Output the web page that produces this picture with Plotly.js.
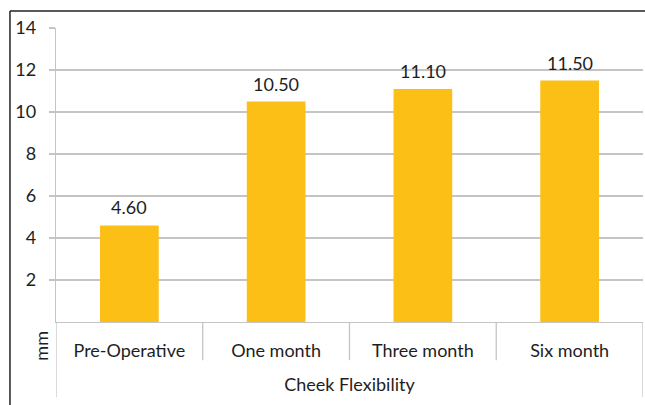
<!DOCTYPE html>
<html>
<head>
<meta charset="utf-8">
<script src="https://cdn.plot.ly/plotly-3.0.1.min.js"></script>
<style>html,body{margin:0;padding:0;background:#fff;}#chart{width:645px;height:405px;}</style>
</head>
<body>
<div id="chart"></div>
<script>
const categories = ["Pre-Operative", "One month", "Three month", "Six month"];
const values = [4.60, 10.50, 11.10, 11.50];
const yTicks = [2, 4, 6, 8, 10, 12, 14];
const xTitle = "Cheek Flexibility";
const yTitle = "mm";

const FONT = "Lato, 'Open Sans', sans-serif";
const FS = 18;
const GRID = "#c4c4c4";
const BAR = "#FBBF16";
const TXT = "#1e1e1e";

const trace = {
  type: "bar",
  x: categories,
  y: values,
  marker: {color: BAR},
  hoverinfo: "skip"
};

const labelAnn = categories.map((c, i) => ({
  x: c, y: values[i], xref: "x", yref: "y",
  text: values[i].toFixed(2), showarrow: false,
  yanchor: "bottom", yshift: 5,
  font: {family: FONT, size: FS, color: TXT}
}));

const dividers = [-0.5, 0.5, 1.5, 2.5, 3.5].map((v, i) => ({
  type: "line", xref: "x", yref: "paper",
  x0: v, x1: v, y0: 0, y1: (i === 0 || i === 4) ? -0.255 : -0.13,
  line: {color: GRID, width: 1.3}
}));

const layout = {
  width: 645, height: 405,
  margin: {l: 56, r: 2, t: 28, b: 83},
  paper_bgcolor: "#fff", plot_bgcolor: "#fff",
  bargap: 0.6,
  showlegend: false,
  font: {family: FONT, size: FS, color: TXT},
  xaxis: {
    type: "category",
    range: [-0.5, 3.5],
    showline: true, linecolor: GRID, linewidth: 1.3,
    showgrid: false, ticks: "",
    ticklabelstandoff: 12,
    tickfont: {family: FONT, size: FS, color: TXT},
    title: {text: xTitle, standoff: 18, font: {family: FONT, size: FS, color: TXT}},
    fixedrange: true
  },
  yaxis: {
    range: [0, 14],
    tickvals: yTicks,
    showgrid: true, gridcolor: GRID, gridwidth: 1.3,
    showline: true, linecolor: GRID, linewidth: 1.3,
    ticks: "outside", ticklen: 6, tickcolor: GRID, tickwidth: 1.3,
    ticklabelstandoff: 9,
    zeroline: false,
    tickfont: {family: FONT, size: FS, color: TXT},
    fixedrange: true
  },
  shapes: dividers.concat([
    {type: "line", xref: "paper", yref: "paper", x0: -0.0784, x1: -0.0784, y0: 1.058, y1: -0.3,
     line: {color: "#222", width: 1.5}},
    {type: "line", xref: "paper", yref: "paper", x0: -0.0784, x1: 1.05, y0: 1.058, y1: 1.058,
     line: {color: "#222", width: 1.5}}
  ]),
  annotations: labelAnn.concat([
    {xref: "paper", yref: "paper", x: -0.027, y: -0.08, text: yTitle, textangle: -90,
     showarrow: false, xanchor: "center", yanchor: "middle",
     font: {family: FONT, size: FS, color: TXT}}
  ])
};

Plotly.newPlot("chart", [trace], layout, {staticPlot: true, displayModeBar: false});
</script>
</body>
</html>
